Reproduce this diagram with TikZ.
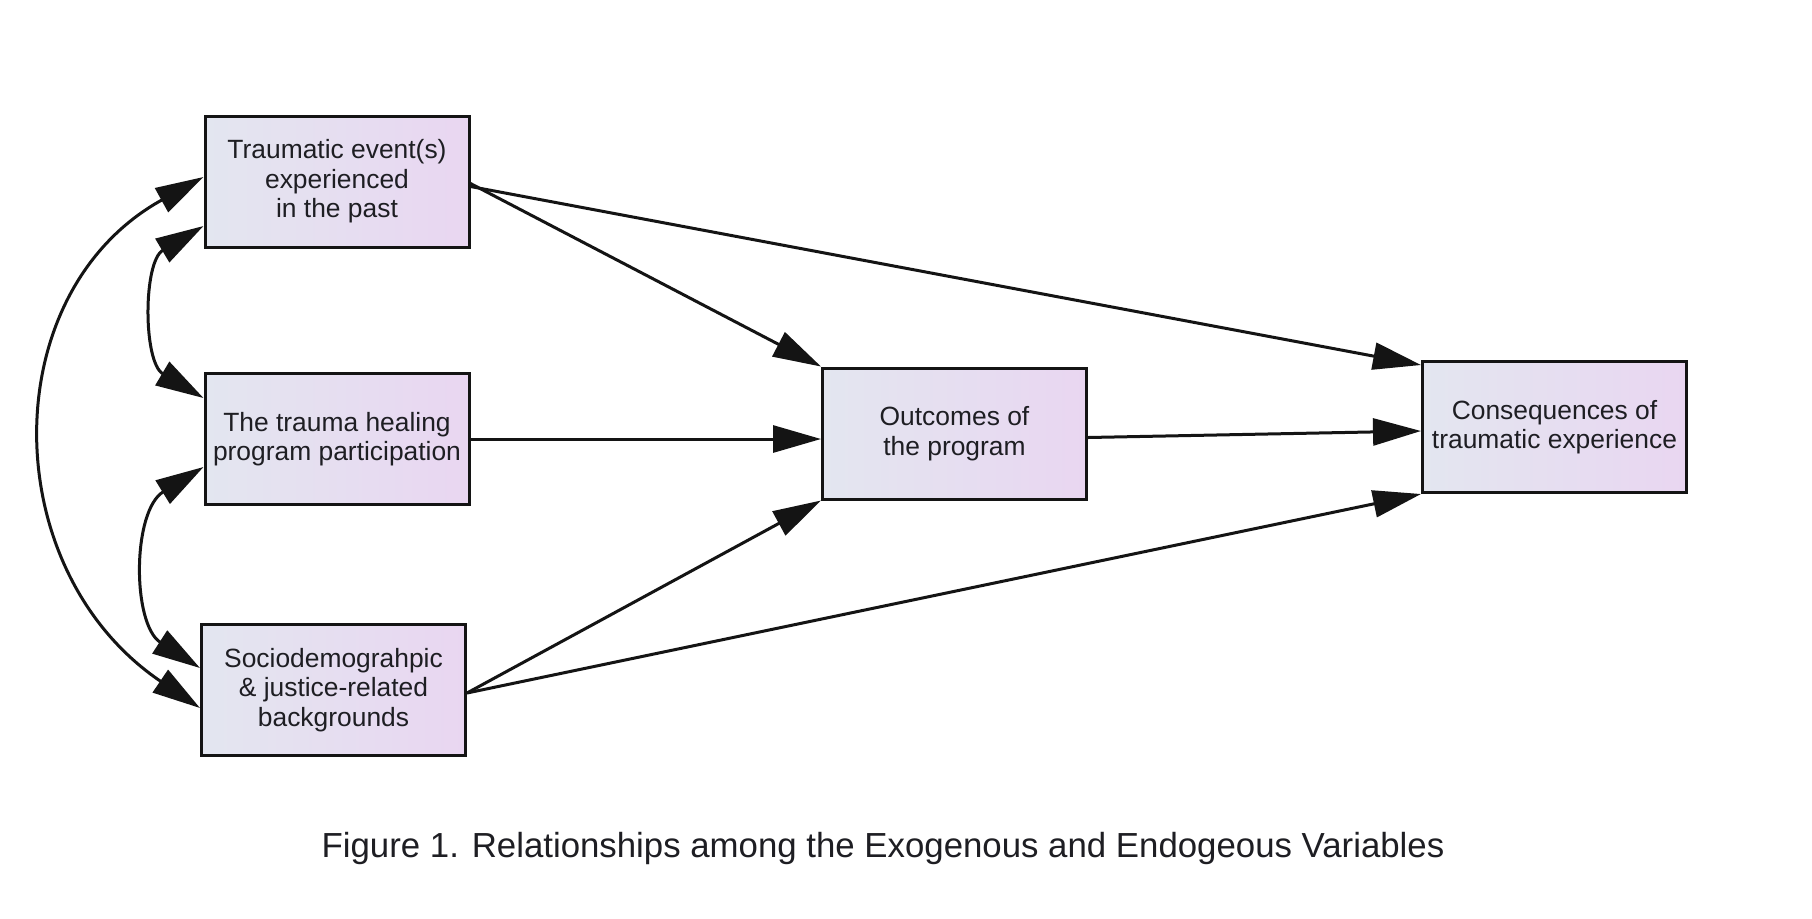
\documentclass[tikz,border=0pt]{standalone}
\usepackage{fontspec}
\setmainfont{Liberation Sans}
\usetikzlibrary{arrows.meta,calc}
\definecolor{boxL}{RGB}{227,230,240}
\definecolor{boxR}{RGB}{233,214,241}
\definecolor{ink}{RGB}{20,20,20}
\definecolor{txt}{RGB}{30,30,35}
\tikzset{
  varbox/.style={draw=ink, line width=1.5pt, minimum width=132pt, minimum height=65.5pt,
    inner sep=0pt, align=center, left color=boxL, right color=boxR, text=txt,
    font=\fontsize{13.2}{14.8}\selectfont},
  arr/.style={draw=ink, line width=1.5pt, -{Triangle[length=24pt,width=13.5pt]}},
  dbl/.style={draw=ink, line width=1.5pt, {Triangle[length=24pt,width=13.5pt]}-{Triangle[length=24pt,width=13.5pt]}},
  caption/.style={font=\fontsize{17.4}{20}\selectfont, text=txt, anchor=base, inner sep=0pt}
}
\begin{document}
\begin{tikzpicture}[x=0.5pt,y=-0.5pt]
\useasboundingbox[fill=white] (0,0) rectangle (1812,918);
\node[varbox] (A) at (337,181.5) {Traumatic event(s)\\experienced\\in the past};
\node[varbox] (B) at (337,439) {The trauma healing\\program participation};
\node[varbox] (C) at (333.5,690) {Sociodemograhpic\\\& justice-related\\backgrounds};
\node[varbox] (D) at (954.5,433.5) {Outcomes of\\the program};
\node[varbox] (E) at (1554.5,427) {Consequences of\\traumatic experience};
\node[caption] (cap) at (883,857) {Figure 1. Relationships among the Exogenous and Endogeous Variables};
% covariances
\draw[dbl] ($(A.west)+(0,-4.5)$) .. controls (-5,292) and (-5,569) .. ($(C.west)+(0,18)$);
\draw[dbl] ($(A.west)+(0,44.5)$) .. controls (143,262) and (143,362) .. ($(B.west)+(0,-41)$);
\draw[dbl] ($(B.west)+(0,28)$) .. controls (132,511) and (132,624) .. ($(C.west)+(0,-22)$);
% paths
\draw[arr] ($(A.east)+(0,2)$) -- (D.north west);
\draw[arr] ($(A.east)+(0,5)$) -- ($(E.north west)+(0,5)$);
\draw[arr] (B.east) -- (B.east -| D.west);
\draw[arr] ($(D.east)+(0,4)$) -- ($(E.west)+(0,4)$);
\draw[arr] ($(C.east)+(0,3)$) -- (D.south west);
\draw[arr] ($(C.east)+(0,3)$) -- (E.south west);
\end{tikzpicture}
\end{document}
